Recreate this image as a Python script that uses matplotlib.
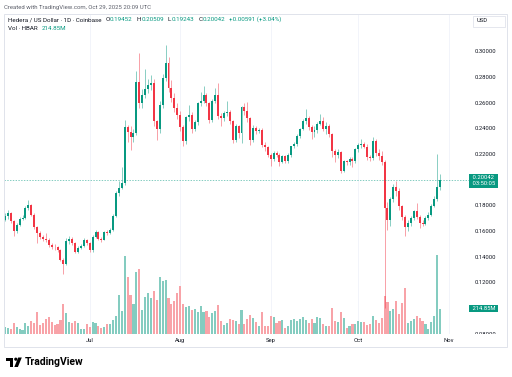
import numpy as np
import pandas as pd
import matplotlib
matplotlib.use("Agg")
import matplotlib.pyplot as plt
import matplotlib.dates as mdates
from matplotlib.patches import Rectangle, Polygon, Circle
from matplotlib import transforms

plt.rcParams['font.family'] = ['Roboto', 'DejaVu Sans']

# HBAR/USD daily candles, 2 Jun - 29 Oct 2025
first_open = 0.1693
close = [
    0.1718, 0.1745, 0.1680, 0.1602, 0.1654, 0.1698, 0.1708, 0.1784, 0.1809, 0.1732,
    0.1636, 0.1589, 0.1555, 0.1542, 0.1537, 0.1493, 0.1480, 0.1475, 0.1454, 0.1381,
    0.1348, 0.1524, 0.1542, 0.1511, 0.1441, 0.1472, 0.1485, 0.1532, 0.1511, 0.1454,
    0.1558, 0.1594, 0.1542, 0.1537, 0.1594, 0.1589, 0.1615, 0.1718, 0.1900, 0.1939,
    0.1979, 0.2414, 0.2372, 0.2336, 0.2370, 0.2769, 0.2601, 0.2665, 0.2710, 0.2743,
    0.2759, 0.2458, 0.2398, 0.2588, 0.2795, 0.2917, 0.2718, 0.2640, 0.2562, 0.2510,
    0.2414, 0.2307, 0.2492, 0.2510, 0.2398, 0.2450, 0.2601, 0.2621, 0.2665, 0.2601,
    0.2471, 0.2614, 0.2665, 0.2497, 0.2484, 0.2523, 0.2533, 0.2458, 0.2315, 0.2419,
    0.2367, 0.2570, 0.2536, 0.2484, 0.2315, 0.2406, 0.2380, 0.2393, 0.2276, 0.2258,
    0.2198, 0.2162, 0.2212, 0.2198, 0.2139, 0.2185, 0.2146, 0.2198, 0.2263, 0.2284,
    0.2346, 0.2398, 0.2458, 0.2484, 0.2414, 0.2375, 0.2388, 0.2440, 0.2463, 0.2398,
    0.2420, 0.2360, 0.2224, 0.2198, 0.2216, 0.2074, 0.2146, 0.2139, 0.2167, 0.2150,
    0.2243, 0.2276, 0.2284, 0.2262, 0.2181, 0.2173, 0.2307, 0.2214, 0.2191, 0.2139,
    0.1784, 0.1687, 0.1854, 0.1947, 0.1913, 0.1796, 0.1713, 0.1636, 0.1667, 0.1706,
    0.1757, 0.1713, 0.1667, 0.1661, 0.1706, 0.1732, 0.1802, 0.1854, 0.19452, 0.20042,
]
high = [
    0.1740, 0.1765, 0.1750, 0.1690, 0.1665, 0.1712, 0.1725, 0.1795, 0.1843, 0.1815,
    0.1745, 0.1645, 0.1600, 0.1575, 0.1590, 0.1545, 0.1510, 0.1500, 0.1490, 0.1465,
    0.1395, 0.1545, 0.1568, 0.1555, 0.1520, 0.1490, 0.1500, 0.1545, 0.1540, 0.1520,
    0.1575, 0.1610, 0.1600, 0.1555, 0.1605, 0.1615, 0.1630, 0.1735, 0.1915, 0.1990,
    0.2100, 0.2470, 0.2430, 0.2420, 0.2400, 0.2854, 0.2995, 0.2710, 0.2870, 0.2790,
    0.2820, 0.2790, 0.2470, 0.2620, 0.2830, 0.3054, 0.2960, 0.2782, 0.2680, 0.2600,
    0.2540, 0.2430, 0.2500, 0.2590, 0.2530, 0.2470, 0.2610, 0.2686, 0.2732, 0.2680,
    0.2610, 0.2630, 0.2720, 0.2761, 0.2520, 0.2540, 0.2615, 0.2545, 0.2470, 0.2440,
    0.2430, 0.2580, 0.2600, 0.2610, 0.2495, 0.2430, 0.2420, 0.2410, 0.2410, 0.2300,
    0.2270, 0.2210, 0.2230, 0.2225, 0.2210, 0.2200, 0.2200, 0.2210, 0.2270, 0.2300,
    0.2360, 0.2410, 0.2480, 0.2554, 0.2500, 0.2430, 0.2420, 0.2450, 0.2518, 0.2490,
    0.2450, 0.2440, 0.2370, 0.2240, 0.2240, 0.2230, 0.2160, 0.2160, 0.2180, 0.2180,
    0.2250, 0.2290, 0.2320, 0.2300, 0.2280, 0.2200, 0.2340, 0.2320, 0.2240, 0.2230,
    0.2160, 0.1830, 0.1870, 0.1970, 0.1990, 0.1940, 0.1810, 0.1730, 0.1690, 0.1720,
    0.1770, 0.1822, 0.1730, 0.1690, 0.1720, 0.1750, 0.1815, 0.1880, 0.2204, 0.20509,
]
low = [
    0.1680, 0.1700, 0.1665, 0.1568, 0.1590, 0.1640, 0.1690, 0.1700, 0.1770, 0.1720,
    0.1620, 0.1511, 0.1540, 0.1525, 0.1515, 0.1475, 0.1460, 0.1455, 0.1440, 0.1370,
    0.1270, 0.1340, 0.1500, 0.1495, 0.1430, 0.1430, 0.1460, 0.1475, 0.1495, 0.1440,
    0.1440, 0.1545, 0.1530, 0.1515, 0.1530, 0.1575, 0.1580, 0.1605, 0.1710, 0.1880,
    0.1930, 0.1960, 0.2300, 0.2237, 0.2294, 0.2350, 0.2560, 0.2560, 0.2640, 0.2680,
    0.2700, 0.2420, 0.2315, 0.2370, 0.2560, 0.2770, 0.2690, 0.2610, 0.2530, 0.2480,
    0.2380, 0.2263, 0.2280, 0.2460, 0.2370, 0.2380, 0.2430, 0.2580, 0.2600, 0.2580,
    0.2446, 0.2450, 0.2600, 0.2480, 0.2419, 0.2460, 0.2500, 0.2440, 0.2290, 0.2300,
    0.2330, 0.2290, 0.2510, 0.2450, 0.2276, 0.2300, 0.2360, 0.2365, 0.2260, 0.2230,
    0.2180, 0.2114, 0.2150, 0.2180, 0.2114, 0.2130, 0.2130, 0.2130, 0.2180, 0.2250,
    0.2270, 0.2330, 0.2390, 0.2440, 0.2390, 0.2320, 0.2340, 0.2370, 0.2430, 0.2380,
    0.2360, 0.2340, 0.2180, 0.2139, 0.2170, 0.2056, 0.2060, 0.2120, 0.2120, 0.2100,
    0.2130, 0.2220, 0.2250, 0.2250, 0.2160, 0.2150, 0.2160, 0.2190, 0.2160, 0.2120,
    0.1005, 0.1615, 0.1640, 0.1830, 0.1880, 0.1770, 0.1690, 0.1563, 0.1600, 0.1640,
    0.1690, 0.1700, 0.1630, 0.1640, 0.1650, 0.1690, 0.1720, 0.1790, 0.1840, 0.19243,
]
# volume in millions of HBAR
volume = [
    62, 51, 42, 96, 62, 42, 34, 93, 70, 112,
    96, 188, 76, 96, 129, 140, 104, 79, 87, 118,
    250, 180, 104, 96, 112, 96, 45, 45, 84, 62,
    104, 96, 65, 51, 62, 81, 81, 118, 149, 332,
    191, 660, 483, 332, 253, 525, 551, 202, 315, 343,
    301, 365, 289, 483, 444, 455, 301, 253, 281, 346,
    407, 253, 225, 239, 202, 211, 183, 233, 183, 191,
    146, 174, 191, 244, 112, 79, 90, 124, 118, 112,
    81, 202, 84, 124, 163, 132, 98, 70, 188, 65,
    65, 155, 146, 90, 112, 118, 51, 70, 118, 126,
    112, 126, 146, 118, 90, 126, 90, 140, 135, 84,
    70, 65, 216, 107, 98, 183, 135, 51, 70, 87,
    87, 107, 98, 104, 76, 84, 152, 118, 96, 135,
    318, 267, 197, 214, 281, 169, 259, 388, 90, 112,
    126, 155, 135, 112, 84, 40, 100, 155, 669, 214.85,
]
dates = pd.date_range("2025-06-02", periods=len(close), freq="D")
price_ticks = [0.08, 0.10, 0.12, 0.14, 0.16, 0.18, 0.20, 0.22, 0.24, 0.26, 0.28, 0.30]
month_ticks = ["2025-07-01", "2025-08-01", "2025-09-01", "2025-10-01", "2025-11-01"]
month_labels = ["Jul", "Aug", "Sep", "Oct", "Nov"]

GREEN = "#089981"
RED = "#f23645"
VGREEN = "#84ccc0"
VRED = "#f8a3a8"
GRID = "#f0f3fa"
TXT = "#131722"

W, H = 512, 377
fig = plt.figure(figsize=(W / 100, H / 100), dpi=100)


def frac(x0, y0, x1, y1):
    return [x0 / W, 1 - y1 / H, (x1 - x0) / W, (y1 - y0) / H]


pane = frac(4, 14, 471, 334)
bg = fig.add_axes(pane)
vax = fig.add_axes(pane, sharex=bg)
ax = fig.add_axes(pane, sharex=bg, sharey=bg)
pax = fig.add_axes(frac(471, 14, 507, 334), sharey=bg)
ov = fig.add_axes([0, 0, 1, 1])

x = mdates.date2num(dates)
c = np.array(close)
o = np.r_[first_open, c[:-1]]
up = c >= o

# volume underneath
vmax = 2700
vax.bar(x, volume, width=0.72, color=np.where(up, VGREEN, VRED), linewidth=0)
vax.set_ylim(0, vmax)

# candles
cols = np.where(up, GREEN, RED)
ax.vlines(x, low, high, colors=cols, lw=0.55, alpha=0.6)
ax.bar(x, np.maximum(np.abs(c - o), 0.0007), bottom=np.minimum(o, c),
       width=0.68, color=cols, linewidth=0)
ax.axhline(c[-1], color=GREEN, lw=0.5, ls=(0, (2, 2)), alpha=0.7)

ylo, yhi = 0.0806, 0.3296
bg.set_xlim(x[0] - 0.34, x[0] + 159.6)
bg.set_ylim(ylo, yhi)
bg.set_yticks(price_ticks)
bg.set_xticks(mdates.date2num(pd.to_datetime(month_ticks)))
bg.set_xticklabels(month_labels)
bg.grid(color=GRID, lw=0.6)
bg.tick_params(length=0, labelleft=False, labelsize=4.2, labelcolor=TXT, pad=3.2)
for a in (vax, ax):
    a.patch.set_visible(False)
    a.tick_params(length=0, labelbottom=False, labelleft=False)
    a.set_yticks([])
for a in (bg, vax, ax):
    for s in a.spines.values():
        s.set_visible(False)
bg.set_zorder(0)
vax.set_zorder(1)
ax.set_zorder(2)

# price scale (labels hidden under the last-price and volume tags are skipped)
pax.axis("off")
pax.set_zorder(3)
ytr = pax.get_yaxis_transform()
vol_as_price = ylo + volume[-1] / vmax * (yhi - ylo)
for p in price_ticks:
    if abs(p - c[-1]) < 0.008 or abs(p - vol_as_price) < 0.006:
        continue
    pax.text(0.1, p, f"{p:.5f}", transform=ytr, va="center", ha="left",
             fontsize=4.2, color=TXT, clip_on=True)
pax.annotate(f" {c[-1]:.5f} \n 03:50:05 ", xy=(0, c[-1]), xycoords=ytr,
             xytext=(-0.2, 3.0), textcoords="offset points", va="top", ha="left",
             fontsize=4.2, color="white", linespacing=1.15,
             bbox=dict(boxstyle="square,pad=0.25", fc=GREEN, ec="none"))
vtr = transforms.blended_transform_factory(pax.transAxes, vax.transData)
pax.annotate(f" {volume[-1]:.2f}M ", xy=(0, volume[-1]), xycoords=vtr,
             xytext=(-0.2, 0), textcoords="offset points", va="center", ha="left",
             fontsize=4.2, color="white",
             bbox=dict(boxstyle="square,pad=0.25", fc=GREEN, ec="none"))

# overlay in pixel coordinates
ov.set_xlim(0, W)
ov.set_ylim(H, 0)
ov.axis("off")
ov.set_zorder(4)
ov.add_patch(Rectangle((4, 14), 503, 333, fill=False, ec="#e0e3eb", lw=0.7))
ov.add_patch(Rectangle((472.5, 15.5), 32, 11, fc="white", ec="#e0e3eb", lw=0.6))
ov.text(477, 21, "USD", fontsize=4.2, color=TXT, va="center")

ov.text(4, 7, "Created with TradingView.com, Oct 29, 2025 20:09 UTC",
        fontsize=4.35, color="#5d606b", va="center")


def chain(start, parts, y):
    prev = ov.text(start, y, parts[0][0], fontsize=4.5, color=parts[0][1], va="center")
    for s, col, gap in parts[1:]:
        prev = ov.annotate(s, xy=(1, 0.5), xycoords=prev, xytext=(gap, 0),
                           textcoords="offset points", va="center", ha="left",
                           fontsize=4.5, color=col)


chain(8, [("Hedera / US Dollar \u00b7 1D \u00b7 Coinbase", TXT),
          ("O", TXT, 3), (f"{o[-1]:.5f}", GREEN, 0),
          ("H", TXT, 3), (f"{high[-1]:.5f}", GREEN, 0),
          ("L", TXT, 3), (f"{low[-1]:.5f}", GREEN, 0),
          ("C", TXT, 3), (f"{c[-1]:.5f}", GREEN, 0),
          ("+0.00591 (+3.04%)", GREEN, 3)], 19.5)
chain(8, [("Vol \u00b7 HBAR", TXT), (f"{volume[-1]:.2f}M", GREEN, 3)], 29)

# TradingView logo
ov.add_patch(Rectangle((6, 357.5), 7, 3, fc="black", ec="none"))
ov.add_patch(Rectangle((9.8, 357.5), 3.2, 9.5, fc="black", ec="none"))
ov.add_patch(Circle((15.8, 359.2), 1.6, fc="black", ec="none"))
ov.add_patch(Polygon([(14.3, 367), (18.2, 357.5), (21.8, 357.5), (17.9, 367)],
                     closed=True, fc="black", ec="none"))
ov.text(24.5, 362.3, "TradingView", fontsize=7.5, fontweight="bold",
        color="black", va="center")

fig.savefig("out.png", dpi=100)
